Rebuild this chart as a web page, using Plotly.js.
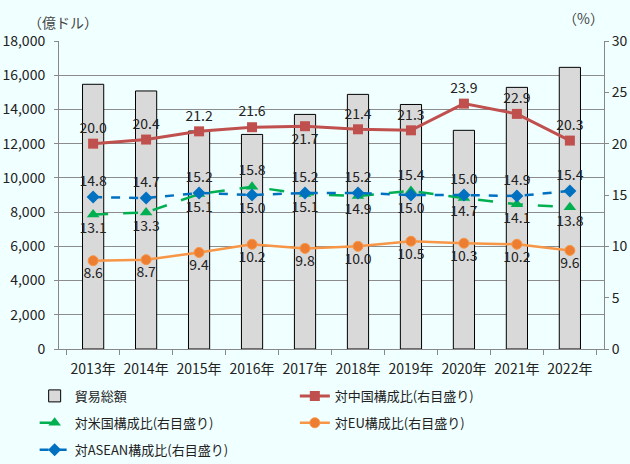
<!DOCTYPE html>
<html><head><meta charset="utf-8">
<script src="https://cdn.plot.ly/plotly-3.0.1.min.js"></script>
<style>html,body{margin:0;padding:0;background:#F0FFFF;}</style>
</head><body>
<div id="chart" style="width:630px;height:464px;"></div>
<script>
const years = ["2013年","2014年","2015年","2016年","2017年","2018年","2019年","2020年","2021年","2022年"];
const tradeTotal = [15470, 15080, 12740, 12540, 13710, 14880, 14290, 12780, 15290, 16460];
const china = [20.0, 20.4, 21.2, 21.6, 21.7, 21.4, 21.3, 23.9, 22.9, 20.3];
const usa = [13.1, 13.3, 15.1, 15.8, 15.1, 14.9, 15.4, 14.7, 14.1, 13.8];
const eu = [8.6, 8.7, 9.4, 10.2, 9.8, 10.0, 10.5, 10.3, 10.2, 9.6];
const asean = [14.8, 14.7, 15.2, 15.0, 15.2, 15.2, 15.0, 15.0, 14.9, 15.4];

const chinaPos = ["top center","top center","top center","top center","bottom center","top center","top center","top center","top center","top center"];
const usaPos = ["bottom center","bottom center","bottom center","top center","bottom center","bottom center","top center","bottom center","bottom center","bottom center"];
const euPos = eu.map(()=> "bottom center");
const aseanPos = ["top center","top center","top center","bottom center","top center","top center","bottom center","top center","top center","top center"];

const FONT = '"Noto Sans CJK JP", "Noto Sans", sans-serif';
const tf = {family: FONT, size: 14, color: '#222'};
const fmt = a => a.map(v => v.toFixed(1));

const traces = [
  {type:'bar', x:years, y:tradeTotal, name:'貿易総額', width:0.4, legend:'legend', legendgroup:'a',
   marker:{color:'#D9D9D9', line:{color:'#000', width:1}}, hoverinfo:'skip'},
  {type:'scatter', mode:'lines+markers+text', x:years, y:china, yaxis:'y2', name:'対中国構成比(右目盛り)', legend:'legend2', legendgroup:'b',
   line:{color:'#C0504D', width:3}, marker:{symbol:'square', size:10, color:'#C0504D'},
   text:fmt(china), textposition:chinaPos, textfont:tf},
  {type:'scatter', mode:'lines+markers+text', x:years, y:usa, yaxis:'y2', name:'対米国構成比(右目盛り)', legend:'legend', legendgroup:'c',
   line:{color:'#00B050', width:2.5, dash:'longdash'}, marker:{symbol:'triangle-up', size:11, color:'#00B050'},
   text:fmt(usa), textposition:usaPos, textfont:tf},
  {type:'scatter', mode:'lines+markers+text', x:years, y:eu, yaxis:'y2', name:'対EU構成比(右目盛り)', legend:'legend2', legendgroup:'d',
   line:{color:'#F79646', width:2.5}, marker:{symbol:'circle', size:10, color:'#ED7D31', line:{color:'#F79646', width:1}},
   text:fmt(eu), textposition:euPos, textfont:tf},
  {type:'scatter', mode:'lines+markers+text', x:years, y:asean, yaxis:'y2', name:'対ASEAN構成比(右目盛り)', legend:'legend', legendgroup:'e',
   line:{color:'#0070C0', width:2.5, dash:'dash'}, marker:{symbol:'diamond', size:10, color:'#0070C0'},
   text:fmt(asean), textposition:aseanPos, textfont:tf}
];

const legendBase = {orientation:'v', xref:'container', yref:'container', xanchor:'left', yanchor:'top',
  y:0.179, font:{family:FONT, size:13, color:'#222'}, traceorder:'grouped', tracegroupgap:7,
  bgcolor:'rgba(0,0,0,0)', borderwidth:0};

const layout = {
  width:630, height:464,
  paper_bgcolor:'#F0FFFF', plot_bgcolor:'#F0FFFF',
  margin:{l:59, r:26, t:41, b:115, autoexpand:false},
  font:{family:FONT, size:13, color:'#222'},
  showlegend:true,
  legend:Object.assign({}, legendBase, {x:0.055}),
  legend2:Object.assign({}, legendBase, {x:0.468}),
  xaxis:{type:'category', showline:true, linecolor:'#888', linewidth:1, ticks:'outside', tickson:'boundaries', tickangle:0,
         ticklen:5, tickcolor:'#888', showgrid:false, tickfont:{family:FONT, size:14, color:'#222'}, fixedrange:true, automargin:false,
         ticklabelstandoff:7},
  yaxis:{range:[0,18000], dtick:2000, tickformat:',d', showline:true, linecolor:'#888', ticks:'outside', ticklen:4, automargin:false,
         tickcolor:'#888', gridcolor:'#8C8C8C', gridwidth:1, zeroline:false, tickfont:{family:FONT, size:14, color:'#222'},
         ticklabelstandoff:6},
  yaxis2:{range:[0,30], dtick:5, overlaying:'y', side:'right', showline:true, linecolor:'#888', ticks:'outside', automargin:false,
          ticklen:4, tickcolor:'#888', showgrid:false, zeroline:false, tickfont:{family:FONT, size:14, color:'#222'}},
  annotations:[
    {text:'（億ドル）', xref:'paper', yref:'paper', x:-0.06, y:1.0, yshift:31, xanchor:'left', yanchor:'top', showarrow:false,
     font:{family:FONT, size:14, color:'#444'}},
    {text:'（%）', xref:'paper', yref:'paper', x:1.003, y:1.0, yshift:35, xanchor:'right', yanchor:'top', showarrow:false,
     font:{family:FONT, size:14, color:'#444'}}
  ]
};
Plotly.newPlot('chart', traces, layout, {displayModeBar:false, staticPlot:true});
</script>
</body></html>
